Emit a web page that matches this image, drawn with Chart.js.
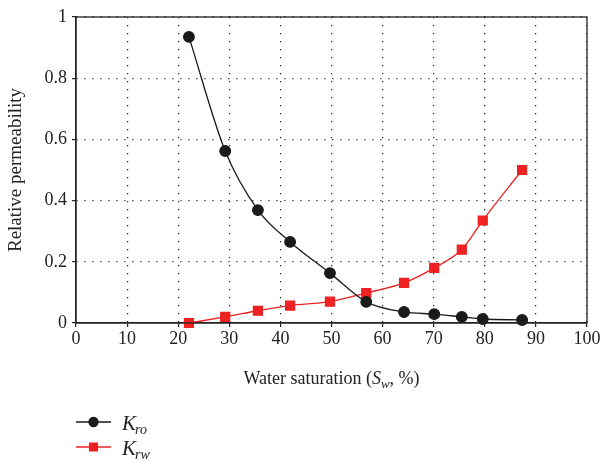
<!DOCTYPE html>
<html>
<head>
<meta charset="utf-8">
<script src="https://cdn.jsdelivr.net/npm/chart.js@4/dist/chart.umd.min.js"></script>
<style>
  html, body { margin: 0; padding: 0; background: #fff; }
  #wrap { width: 603px; height: 462px; position: relative; }
</style>
</head>
<body>
<div id="wrap"><canvas id="chart" width="603" height="462"></canvas></div>
<script>
// water saturation (%) where both curves were measured
const saturation = [22.1, 29.2, 35.6, 41.9, 49.7, 56.8, 64.2, 70.1, 75.5, 79.6, 87.3];
const kro = [0.935, 0.562, 0.369, 0.265, 0.163, 0.069, 0.036, 0.029, 0.020, 0.013, 0.010];
const krw = [0.0, 0.020, 0.040, 0.057, 0.070, 0.098, 0.131, 0.180, 0.240, 0.335, 0.500];
const xTicks = [0, 10, 20, 30, 40, 50, 60, 70, 80, 90, 100];
const yTicks = [0, 0.2, 0.4, 0.6, 0.8, 1];

const serif = "'Liberation Serif', 'DejaVu Serif', serif";

const toPoints = (xs, ys) => xs.map((x, i) => ({ x: x, y: ys[i] }));

// frame + x title + legend (needs subscripts, so drawn by hand)
const extras = {
    id: "extras",
    afterDraw(chart) {
        const ctx = chart.ctx;
        const a = chart.chartArea;
        ctx.save();
        ctx.strokeStyle = "#222";
        ctx.lineWidth = 1.3;
        ctx.strokeRect(a.left, a.top, a.right - a.left, a.bottom - a.top);

        // x axis title: Water saturation (S_w, %)
        ctx.fillStyle = "#222";
        ctx.textBaseline = "alphabetic";
        const y = 384;
        const parts = [
            { t: "Water saturation (", f: "18px " + serif, dy: 0 },
            { t: "S", f: "italic 18px " + serif, dy: 0 },
            { t: "w", f: "italic 13px " + serif, dy: 4 },
            { t: ", %)", f: "18px " + serif, dy: 0 }
        ];
        let total = 0;
        parts.forEach(p => { ctx.font = p.f; p.w = ctx.measureText(p.t).width; total += p.w; });
        let x = (a.left + a.right) / 2 - total / 2;
        parts.forEach(p => { ctx.font = p.f; ctx.fillText(p.t, x, y + p.dy); x += p.w; });

        // legend
        const rows = [
            { ds: chart.data.datasets[0], sub: "ro", y: 430 },
            { ds: chart.data.datasets[1], sub: "rw", y: 455 }
        ];
        rows.forEach(r => {
            ctx.strokeStyle = r.ds.borderColor;
            ctx.lineWidth = 1.3;
            ctx.beginPath();
            ctx.moveTo(76, r.y - 8);
            ctx.lineTo(111, r.y - 8);
            ctx.stroke();
            Chart.helpers.drawPoint(ctx, {
                pointStyle: r.ds.pointStyle,
                radius: r.ds.pointStyle === "rect" ? 5.5 : 4.5,
                borderWidth: 1
            }, 93.5, r.y - 8);
            ctx.fillStyle = r.ds.pointBackgroundColor;
            ctx.strokeStyle = r.ds.borderColor;
            ctx.fill();
            ctx.fillStyle = "#222";
            ctx.font = "italic 21px " + serif;
            ctx.fillText("K", 122, r.y);
            const kw = ctx.measureText("K").width;
            ctx.font = "italic 14px " + serif;
            ctx.fillText(r.sub, 122 + kw - 1, r.y + 4);
        });
        ctx.restore();
    }
};

new Chart(document.getElementById("chart"), {
    type: "line",
    data: {
        datasets: [
            {
                label: "Kro",
                data: toPoints(saturation, kro),
                borderColor: "#1a1a1a",
                backgroundColor: "#1a1a1a",
                pointBackgroundColor: "#1a1a1a",
                pointBorderColor: "#1a1a1a",
                pointStyle: "circle",
                pointRadius: 5.3,
                borderWidth: 1.3,
                cubicInterpolationMode: "monotone"
            },
            {
                label: "Krw",
                data: toPoints(saturation, krw),
                borderColor: "#ee2222",
                backgroundColor: "#ee2222",
                pointBackgroundColor: "#ee2222",
                pointBorderColor: "#ee2222",
                pointStyle: "rect",
                pointRadius: 6.3,
                borderWidth: 1.3,
                cubicInterpolationMode: "monotone"
            }
        ]
    },
    options: {
        responsive: false,
        animation: false,
        clip: false,
        layout: { padding: { left: 0, right: 16, top: 17, bottom: 109 } },
        plugins: { legend: { display: false }, tooltip: { enabled: false } },
        scales: {
            x: {
                type: "linear",
                min: 0,
                max: 100,
                afterBuildTicks: s => { s.ticks = xTicks.map(v => ({ value: v })); },
                afterFit: s => { s.height = 30; },
                ticks: { color: "#222", font: { family: serif, size: 18 }, padding: 1 },
                grid: { color: "#222", tickColor: "#222", tickLength: 4, tickBorderDash: [], lineWidth: 1.2 },
                border: { color: "#222", width: 1.3, dash: [1.2, 6.8] }
            },
            y: {
                min: 0,
                max: 1,
                afterBuildTicks: s => { s.ticks = yTicks.map(v => ({ value: v })); },
                afterFit: s => { s.width = 76; },
                ticks: {
                    color: "#222",
                    font: { family: serif, size: 18 },
                    padding: 5,
                    callback: v => String(v)
                },
                grid: { color: "#222", tickColor: "#222", tickLength: 4, tickBorderDash: [], lineWidth: 1.2 },
                border: { color: "#222", width: 1.3, dash: [1.2, 6.8] },
                title: {
                    display: true,
                    text: "Relative permeability",
                    color: "#222",
                    font: { family: serif, size: 19 },
                    padding: { top: 5, bottom: 0 }
                }
            }
        }
    },
    plugins: [extras]
});
</script>
</body>
</html>
